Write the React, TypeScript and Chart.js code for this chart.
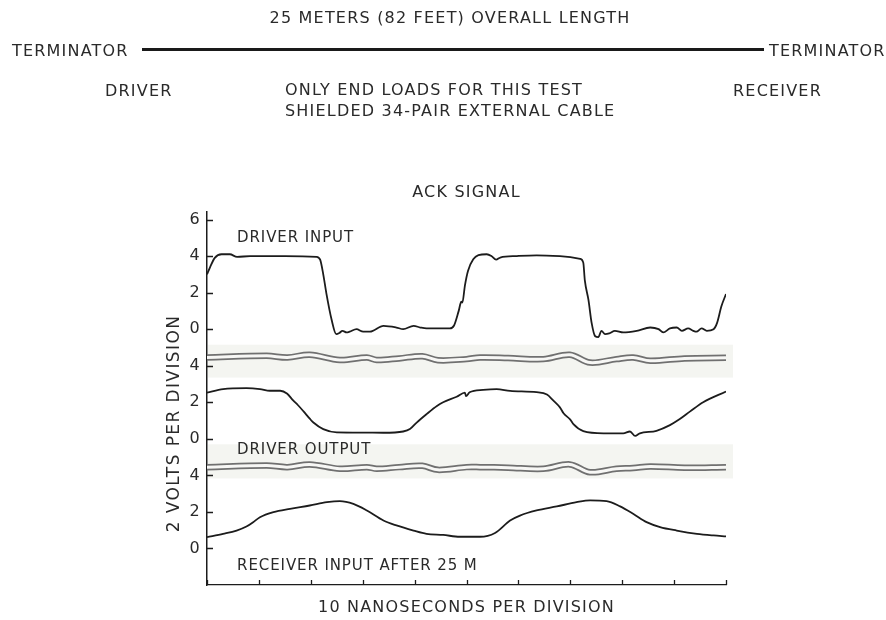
import React, { useEffect, useRef } from "react";
import { Chart, registerables } from "chart.js";

Chart.register(...registerables);

// ---------- text ----------
const HEADER_TITLE = "25 METERS (82 FEET) OVERALL LENGTH";
const END_LABEL = "TERMINATOR";
const DRIVER_LABEL = "DRIVER";
const RECEIVER_LABEL = "RECEIVER";
const NOTE_LINES = ["ONLY END LOADS FOR THIS TEST", "SHIELDED 34-PAIR EXTERNAL CABLE"];
const CHART_TITLE = "ACK SIGNAL";
const X_TITLE = "10 NANOSECONDS PER DIVISION";
const Y_TITLE = "2 VOLTS PER DIVISION";
const PANEL_NAMES = ["DRIVER INPUT", "DRIVER OUTPUT", "RECEIVER INPUT AFTER 25 M"];

// ---------- axes ----------
// each trace's 0 V sits at this value of the shared vertical axis (volts)
const PANEL_OFFSETS = [12, 6, 0];
const Y_TICK_VALUES = [0, 2, 4, 6, 8, 10, 12, 14, 16, 18];
const Y_TICK_LABELS = ["0", "2", "4", "0", "2", "4", "0", "2", "4", "6"];
const X_TICK_VALUES = [0, 10, 20, 30, 40, 50, 60, 70, 80, 90, 100];

// ---------- data (time in ns, volts) ----------
const driverInputNs = [0, 0.6, 1.5, 2.8, 4.4, 5.8, 8.3, 15, 21.1, 21.8, 22.4, 23.0, 24.0, 24.9, 25.5, 26.1, 26.9, 27.5, 28.8, 30.1, 31.4, 34.0, 36.5, 37.8, 39.8, 41.1, 42.3, 46.8, 47.6, 48.5, 49.0, 49.2, 49.7, 50.3, 51.3, 52.3, 53.9, 54.8, 55.7, 56.5, 59.7, 63.5, 68.0, 71.9, 72.5, 72.8, 73.5, 74.1, 74.8, 75.4, 76.0, 76.7, 77.5, 78.6, 80.2, 82.8, 85.4, 87.0, 87.9, 89.2, 90.5, 91.5, 92.7, 93.7, 94.3, 95.3, 96.3, 97.6, 98.3, 99.1, 100];
const driverInputVolts = [3.0, 3.4, 3.9, 4.1, 4.1, 3.95, 4.0, 4.0, 3.96, 3.8, 3.0, 1.96, 0.53, -0.27, -0.21, -0.09, -0.18, -0.14, 0.0, -0.14, -0.14, 0.18, 0.09, 0.0, 0.18, 0.09, 0.04, 0.04, 0.2, 1.0, 1.5, 1.45, 2.4, 3.2, 3.82, 4.05, 4.1, 4.0, 3.8, 3.92, 4.0, 4.04, 4.0, 3.85, 3.64, 2.67, 1.6, 0.36, -0.39, -0.44, -0.09, -0.27, -0.23, -0.09, -0.18, -0.09, 0.09, 0.0, -0.18, 0.04, 0.09, -0.09, 0.04, -0.09, -0.14, 0.04, -0.09, 0.0, 0.36, 1.24, 1.92];

const driverOutputNs = [0, 3.1, 7.6, 10.2, 12.1, 14.1, 15.4, 16.6, 17.5, 18.6, 19.8, 20.5, 22.4, 25.0, 30.0, 34.0, 37.8, 39.1, 40.4, 42.3, 44.3, 45.5, 48.1, 49.7, 49.9, 50.6, 53.2, 55.8, 58.4, 63.5, 65.5, 66.7, 68.0, 68.7, 70.0, 70.6, 72.5, 76.4, 80.2, 81.5, 82.5, 83.4, 86.6, 89.2, 91.1, 93.1, 95.6, 100];
const driverOutputVolts = [2.53, 2.72, 2.77, 2.72, 2.63, 2.63, 2.48, 2.1, 1.85, 1.5, 1.1, 0.89, 0.53, 0.35, 0.34, 0.33, 0.4, 0.53, 0.89, 1.35, 1.8, 2.0, 2.3, 2.53, 2.33, 2.55, 2.68, 2.72, 2.62, 2.55, 2.42, 2.1, 1.72, 1.4, 1.05, 0.8, 0.42, 0.3, 0.3, 0.4, 0.16, 0.3, 0.44, 0.75, 1.08, 1.5, 2.0, 2.59];

const receiverNs = [0, 3.1, 5.7, 7.6, 8.9, 10.2, 12.8, 16.0, 19.8, 23.1, 25.6, 28.2, 30.8, 34.0, 36.5, 39.8, 42.3, 45.5, 48.7, 52.6, 55.5, 58.4, 60.3, 63.5, 67.4, 71.2, 73.8, 77.0, 79.6, 82.1, 84.7, 87.3, 90.5, 94.4, 97.6, 100];
const receiverVolts = [0.62, 0.8, 0.98, 1.2, 1.44, 1.71, 1.99, 2.17, 2.35, 2.53, 2.59, 2.44, 2.08, 1.53, 1.26, 0.98, 0.8, 0.74, 0.64, 0.64, 0.85, 1.53, 1.8, 2.08, 2.3, 2.53, 2.63, 2.59, 2.3, 1.9, 1.44, 1.17, 0.98, 0.8, 0.71, 0.66];

// double reference traces in the shaded strips (volts on their panel)
const stripNs = [0, 11.5, 15.5, 19.8, 25.6, 30.8, 32.7, 37, 41.5, 44.5, 50, 52.6, 58, 64.8, 69.9, 73.8, 78.9, 82.1, 85.4, 92, 100];
const upperStripVolts = [4.45, 4.54, 4.45, 4.6, 4.31, 4.45, 4.31, 4.4, 4.52, 4.3, 4.36, 4.45, 4.42, 4.36, 4.6, 4.17, 4.36, 4.45, 4.27, 4.4, 4.43];
const lowerStripVolts = [4.45, 4.54, 4.45, 4.6, 4.36, 4.45, 4.36, 4.45, 4.52, 4.3, 4.45, 4.45, 4.42, 4.36, 4.6, 4.17, 4.36, 4.4, 4.49, 4.42, 4.45];
// shaded strip extents on the shared axis [low, high]
const STRIP_RANGES = [[9.35, 11.15], [3.83, 5.7]];

// ---------- style ----------
const FONT = '"DejaVu Sans", "Liberation Sans", sans-serif';
const TEXT = "#2a2a2a";
const INK = "#1c1c1c";

const toPoints = (xs: number[], ys: number[], offset: number) =>
  xs.map((x, i) => ({ x, y: ys[i] + offset }));

const decorPlugin = {
  id: "decor",
  beforeDraw(chart: any) {
    chart.ctx.letterSpacing = "1.2px";
  },
  beforeDatasetsDraw(chart: any) {
    const { ctx, chartArea, scales } = chart;
    const y = scales.y;
    ctx.save();
    ctx.fillStyle = "#f4f5f1";
    for (const [lo, hi] of STRIP_RANGES) {
      const top = y.getPixelForValue(hi);
      const bot = y.getPixelForValue(lo);
      ctx.fillRect(chartArea.left + 1, top, chartArea.right - chartArea.left + 6, bot - top);
    }
    ctx.restore();
  },
  afterDraw(chart: any) {
    const { ctx, chartArea, scales } = chart;
    const x = scales.x;
    const y = scales.y;
    ctx.save();
    ctx.strokeStyle = INK;
    ctx.lineWidth = 1.3;
    ctx.beginPath();
    for (const v of Y_TICK_VALUES) {
      const py = Math.round(y.getPixelForValue(v)) + 0.5;
      ctx.moveTo(chartArea.left, py);
      ctx.lineTo(chartArea.left + 6, py);
    }
    for (const v of X_TICK_VALUES) {
      const px = Math.round(x.getPixelForValue(v)) + 0.5;
      ctx.moveTo(px, chartArea.bottom);
      ctx.lineTo(px, chartArea.bottom - 5);
    }
    ctx.stroke();

    // panel names
    ctx.fillStyle = TEXT;
    ctx.font = `15px ${FONT}`;
    (ctx as any).letterSpacing = "0.9px";
    ctx.textAlign = "left";
    ctx.textBaseline = "middle";
    const labelY = [17.0, 5.36, -0.98];
    PANEL_NAMES.forEach((name, i) => {
      ctx.fillText(name, x.getPixelForValue(5.8), y.getPixelForValue(labelY[i]));
    });

    // vertical axis title
    ctx.font = `17px ${FONT}`;
    (ctx as any).letterSpacing = "1.4px";
    ctx.translate(chartArea.left - 32, y.getPixelForValue(6.84));
    ctx.rotate(-Math.PI / 2);
    ctx.textAlign = "center";
    ctx.fillText(Y_TITLE, 0, 0);
    ctx.restore();
  },
};

export default function App() {
  const ref = useRef<HTMLCanvasElement>(null);

  useEffect(() => {
    const traceStyle = {
      borderColor: INK,
      borderWidth: 1.8,
      pointRadius: 0,
      cubicInterpolationMode: "monotone" as const,
      fill: false,
      order: 0,
    };
    const stripOuter = {
      borderColor: "#707070",
      borderWidth: 6.5,
      pointRadius: 0,
      tension: 0.35,
      fill: false,
      order: 2,
    };
    const stripInner = {
      borderColor: "#f7f7f5",
      borderWidth: 3,
      pointRadius: 0,
      tension: 0.35,
      fill: false,
      order: 1,
    };
    const chart = new Chart(ref.current as HTMLCanvasElement, {
      type: "line",
      data: {
        datasets: [
          { label: PANEL_NAMES[0], data: toPoints(driverInputNs, driverInputVolts, PANEL_OFFSETS[0]), ...traceStyle },
          { label: PANEL_NAMES[1], data: toPoints(driverOutputNs, driverOutputVolts, PANEL_OFFSETS[1]), ...traceStyle },
          { label: PANEL_NAMES[2], data: toPoints(receiverNs, receiverVolts, PANEL_OFFSETS[2]), ...traceStyle },
          { label: "strip 1", data: toPoints(stripNs, upperStripVolts, PANEL_OFFSETS[1]), ...stripInner },
          { label: "strip 1", data: toPoints(stripNs, upperStripVolts, PANEL_OFFSETS[1]), ...stripOuter },
          { label: "strip 2", data: toPoints(stripNs, lowerStripVolts, PANEL_OFFSETS[2]), ...stripInner },
          { label: "strip 2", data: toPoints(stripNs, lowerStripVolts, PANEL_OFFSETS[2]), ...stripOuter },
        ],
      },
      options: {
        responsive: false,
        maintainAspectRatio: false,
        animation: false,
        devicePixelRatio: 1,
        layout: { padding: { top: 0, left: 0, right: 160, bottom: 0 } },
        plugins: {
          legend: { display: false },
          tooltip: { enabled: false },
          title: {
            display: true,
            text: CHART_TITLE,
            fullSize: false,
            color: TEXT,
            font: { family: FONT, size: 16, weight: "normal", lineHeight: 1.2 },
            padding: { top: 183, bottom: 10 },
          },
        },
        scales: {
          x: {
            type: "linear",
            min: 0,
            max: 100,
            grid: { display: false, drawTicks: false },
            border: { display: true, color: INK, width: 1.3 },
            ticks: { display: false },
            afterBuildTicks: (s: any) => {
              s.ticks = X_TICK_VALUES.map((value) => ({ value }));
            },
            afterFit: (s: any) => {
              s.height = 35;
            },
            title: {
              display: true,
              text: X_TITLE,
              color: TEXT,
              font: { family: FONT, size: 16, weight: "normal", lineHeight: 1.2 },
              padding: { top: 0, bottom: 2.5 },
            },
          },
          y: {
            type: "linear",
            min: -2,
            max: 18.4,
            grid: { display: false, drawTicks: false },
            border: { display: true, color: INK, width: 1.5 },
            afterBuildTicks: (s: any) => {
              s.ticks = Y_TICK_VALUES.map((value) => ({ value }));
            },
            afterFit: (s: any) => {
              s.width = 207;
            },
            ticks: {
              color: TEXT,
              padding: 6,
              font: { family: FONT, size: 16, weight: "normal" },
              callback: (v: any) => {
                const i = Y_TICK_VALUES.indexOf(Number(v));
                return i >= 0 ? Y_TICK_LABELS[i] : "";
              },
            },
          },
        },
      },
      plugins: [decorPlugin],
    } as any);
    return () => chart.destroy();
  }, []);

  const textStyle: React.CSSProperties = {
    position: "absolute",
    font: `16px ${FONT}`,
    lineHeight: "19px",
    letterSpacing: "1.2px",
    color: TEXT,
    whiteSpace: "nowrap",
  };

  return (
    <div
      style={{
        position: "absolute",
        left: 0,
        top: 0,
        width: 886,
        height: 620,
        overflow: "hidden",
        background: "#ffffff",
      }}
    >
      <canvas
        ref={ref}
        width={886}
        height={620}
        style={{ position: "absolute", left: 0, top: 0, width: 886, height: 620 }}
      />
      <div style={{ ...textStyle, left: 50, width: 800, top: 8, textAlign: "center" }}>{HEADER_TITLE}</div>
      <div style={{ ...textStyle, left: 12, top: 41 }}>{END_LABEL}</div>
      <div
        style={{
          position: "absolute",
          left: 142,
          top: 48,
          width: 622,
          height: 3,
          background: "#1a1a1a",
        }}
      />
      <div style={{ ...textStyle, left: 769, top: 41 }}>{END_LABEL}</div>
      <div style={{ ...textStyle, left: 105, top: 81 }}>{DRIVER_LABEL}</div>
      <div style={{ ...textStyle, left: 285, top: 80 }}>{NOTE_LINES[0]}</div>
      <div style={{ ...textStyle, left: 285, top: 101 }}>{NOTE_LINES[1]}</div>
      <div style={{ ...textStyle, left: 733, top: 81 }}>{RECEIVER_LABEL}</div>
    </div>
  );
}
